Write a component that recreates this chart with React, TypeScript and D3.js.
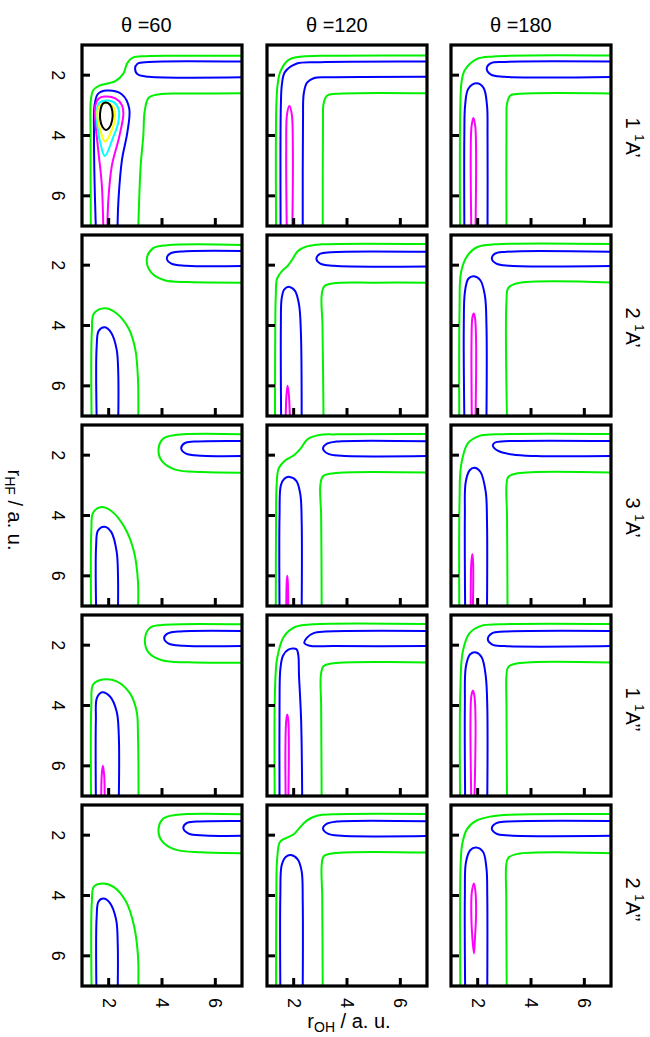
import React from "react";
import * as d3 from "d3";

// panel headers / row labels / ticks
const thetas = [60, 120, 180];
const stateNums = ["1", "2", "3", "1", "2"];
const stateSyms = ["A’", "A’", "A’", "A’’", "A’’"];
const xTicks = [2, 4, 6];
const yTicks = [2, 4, 6];

const levelColors: Record<string, string> = {
  k: "#000000",
  y: "#ffff00",
  c: "#00ffff",
  m: "#ff00ff",
  b: "#0000ff",
  g: "#00f000",
};

// contour lines: [level, closed, [r_OH, r_HF] points]
type Contour = [string, boolean, number[][]];

const p11: Contour[] = [
  ["g", false, [[1.33, 7.1], [1.32, 4], [1.33, 2.85], [1.42, 2.5], [1.65, 2.35], [2.25, 2.2], [2.55, 1.95], [2.7, 1.6], [2.9, 1.42], [3.4, 1.37], [5, 1.36], [7.1, 1.36]]],
  ["g", false, [[3.11, 7.1], [3.2, 5], [3.3, 4], [3.35, 3.2], [3.5, 2.75], [3.9, 2.63], [5, 2.61], [7.1, 2.6]]],
  ["b", false, [[7.1, 1.55], [3.5, 1.56], [3.08, 1.62], [2.99, 1.8], [3.1, 1.98], [3.5, 2.05], [7.1, 2.07]]],
  ["b", false, [[1.52, 7.1], [1.47, 5.5], [1.45, 4], [1.47, 3], [1.6, 2.62], [1.93, 2.51], [2.5, 2.64], [2.77, 3.1], [2.7, 3.9], [2.5, 4.8], [2.37, 6.1], [2.33, 7.1]]],
  ["m", false, [[1.8, 7.1], [1.74, 5.6], [1.61, 4.5], [1.49, 3.4], [1.5, 3.0], [1.62, 2.78], [1.85, 2.71], [2.25, 2.77], [2.5, 3.0], [2.55, 3.3], [2.38, 4.1], [2.12, 5.0], [1.99, 6.1], [1.95, 7.1]]],
  ["c", true, [[1.55, 3.2], [1.65, 2.92], [1.9, 2.84], [2.2, 2.9], [2.38, 3.15], [2.35, 3.6], [2.15, 4.1], [1.86, 4.68], [1.7, 4.3], [1.58, 3.7]]],
  ["y", true, [[1.6, 3.1], [1.75, 2.95], [1.98, 2.93], [2.17, 3.05], [2.24, 3.35], [2.15, 3.75], [1.86, 4.2], [1.68, 3.8], [1.58, 3.4]]],
  ["k", true, [[1.9, 2.91], [2.05, 2.98], [2.14, 3.2], [2.13, 3.5], [2.02, 3.75], [1.9, 3.82], [1.77, 3.72], [1.68, 3.45], [1.7, 3.12], [1.78, 2.95]]],
];
const p12: Contour[] = [
  ["g", false, [[1.34, 7.1], [1.35, 3], [1.4, 2.3], [1.5, 1.88], [1.8, 1.5], [2.24, 1.39], [3, 1.36], [7.1, 1.35]]],
  ["b", false, [[1.51, 7.1], [1.52, 3], [1.56, 2.3], [1.67, 1.9], [2.1, 1.62], [3, 1.57], [7.1, 1.55]]],
  ["b", false, [[2.34, 7.1], [2.35, 3.5], [2.38, 2.6], [2.5, 2.25], [2.75, 2.1], [3.3, 2.07], [7.1, 2.05]]],
  ["g", false, [[3.09, 7.1], [3.1, 3.5], [3.12, 2.95], [3.25, 2.68], [3.6, 2.62], [7.1, 2.6]]],
  ["m", false, [[1.74, 7.1], [1.72, 4.5], [1.75, 3.3], [1.84, 3.02], [1.93, 3.3], [1.97, 4.5], [1.95, 7.1]]],
];
const p13: Contour[] = [
  ["g", false, [[1.34, 7.1], [1.35, 3], [1.4, 2.2], [1.52, 1.83], [1.96, 1.47], [2.6, 1.38], [7.1, 1.35]]],
  ["b", false, [[7.1, 1.55], [3, 1.56], [2.5, 1.6], [2.34, 1.78], [2.5, 1.98], [3, 2.05], [7.1, 2.06]]],
  ["b", false, [[1.5, 7.1], [1.5, 4], [1.53, 3], [1.65, 2.45], [1.96, 2.27], [2.22, 2.42], [2.35, 3], [2.37, 4], [2.37, 7.1]]],
  ["g", false, [[3.08, 7.1], [3.08, 3.5], [3.1, 2.95], [3.22, 2.68], [3.6, 2.62], [7.1, 2.61]]],
  ["m", false, [[1.76, 7.1], [1.74, 4.5], [1.77, 3.7], [1.84, 3.42], [1.91, 3.7], [1.94, 4.5], [1.92, 7.1]]],
];

const p21: Contour[] = [
  ["g", false, [[7.1, 1.33], [4.2, 1.34], [3.65, 1.45], [3.43, 1.8], [3.6, 2.25], [4.1, 2.5], [5, 2.56], [7.1, 2.58]]],
  ["b", false, [[7.1, 1.53], [4.7, 1.55], [4.3, 1.62], [4.18, 1.78], [4.35, 1.95], [4.9, 2.02], [7.1, 2.03]]],
  ["g", false, [[1.36, 7.1], [1.37, 4.2], [1.45, 3.6], [1.86, 3.43], [2.3, 3.6], [2.75, 4.1], [3.0, 4.8], [3.1, 5.8], [3.11, 7.1]]],
  ["b", false, [[1.55, 7.1], [1.55, 4.7], [1.63, 4.17], [1.86, 4.06], [2.1, 4.25], [2.3, 4.8], [2.36, 5.6], [2.36, 7.1]]],
];
const p22: Contour[] = [
  ["g", false, [[1.3, 7.1], [1.31, 4], [1.33, 3], [1.38, 2.44], [1.59, 2.17], [1.78, 2.02], [1.97, 1.78], [2.16, 1.53], [2.53, 1.37], [3.04, 1.31], [7.1, 1.3]]],
  ["b", false, [[7.1, 1.56], [3.4, 1.57], [3.0, 1.62], [2.85, 1.78], [3.0, 1.95], [3.5, 2.02], [7.1, 2.04]]],
  ["b", false, [[1.53, 7.1], [1.52, 4], [1.55, 3.1], [1.65, 2.8], [1.84, 2.72], [2.05, 2.85], [2.2, 3.3], [2.27, 4.2], [2.3, 7.1]]],
  ["g", false, [[3.12, 7.1], [3.08, 4], [3.05, 3.0], [3.15, 2.7], [3.5, 2.6], [5, 2.58], [7.1, 2.58]]],
  ["m", false, [[1.7, 7.1], [1.73, 6.3], [1.77, 6.0], [1.82, 6.3], [1.86, 7.1]]],
];
const p23: Contour[] = [
  ["g", false, [[1.31, 7.1], [1.32, 3.5], [1.38, 2.22], [1.63, 1.67], [2.01, 1.39], [2.64, 1.31], [7.1, 1.3]]],
  ["b", false, [[7.1, 1.56], [3.0, 1.56], [2.65, 1.62], [2.53, 1.78], [2.7, 1.95], [3.2, 2.02], [7.1, 2.03]]],
  ["b", false, [[1.5, 7.1], [1.48, 4], [1.52, 2.9], [1.65, 2.45], [1.86, 2.37], [2.1, 2.5], [2.27, 3.0], [2.33, 4], [2.33, 7.1]]],
  ["g", false, [[3.1, 7.1], [3.08, 3.2], [3.15, 2.75], [3.5, 2.6], [7.1, 2.58]]],
  ["m", false, [[1.78, 7.1], [1.77, 4.5], [1.8, 3.75], [1.85, 3.6], [1.9, 3.75], [1.94, 4.5], [1.92, 7.1]]],
];

const p31: Contour[] = [
  ["g", false, [[7.1, 1.31], [4.5, 1.33], [4.05, 1.45], [3.87, 1.8], [4.0, 2.2], [4.5, 2.48], [5.5, 2.56], [7.1, 2.58]]],
  ["b", false, [[7.1, 1.53], [5.2, 1.55], [4.85, 1.6], [4.72, 1.78], [4.9, 1.95], [5.5, 2.02], [7.1, 2.03]]],
  ["g", false, [[1.34, 7.1], [1.35, 4.5], [1.42, 3.9], [1.72, 3.72], [2.1, 3.85], [2.6, 4.4], [2.95, 5.2], [3.1, 6.2], [3.1, 7.1]]],
  ["b", false, [[1.53, 7.1], [1.53, 5], [1.6, 4.5], [1.84, 4.37], [2.1, 4.55], [2.3, 5.2], [2.35, 6], [2.35, 7.1]]],
];
const p32: Contour[] = [
  ["g", false, [[1.33, 7.1], [1.34, 4], [1.36, 3], [1.44, 2.44], [1.69, 2.17], [2.01, 2.0], [2.26, 1.78], [2.52, 1.47], [2.96, 1.33], [3.6, 1.31], [7.1, 1.3]]],
  ["b", false, [[7.1, 1.54], [3.6, 1.55], [3.25, 1.62], [3.1, 1.78], [3.3, 1.96], [3.8, 2.02], [7.1, 2.03]]],
  ["b", false, [[1.47, 7.1], [1.47, 4], [1.52, 3.0], [1.65, 2.78], [1.85, 2.72], [2.1, 2.85], [2.25, 3.3], [2.3, 4.2], [2.3, 7.1]]],
  ["g", false, [[3.05, 7.1], [3.03, 4], [3.0, 3.0], [3.1, 2.7], [3.5, 2.6], [7.1, 2.58]]],
  ["m", false, [[1.72, 7.1], [1.74, 6.2], [1.76, 6.0], [1.78, 6.2], [1.8, 7.1]]],
];
const p33: Contour[] = [
  ["g", false, [[1.31, 7.1], [1.32, 3.5], [1.38, 2.33], [1.63, 1.61], [2.07, 1.36], [2.7, 1.31], [7.1, 1.3]]],
  ["b", false, [[7.1, 1.53], [3.0, 1.54], [2.65, 1.58], [2.57, 1.68], [2.75, 1.85], [3.3, 1.98], [4.2, 2.03], [7.1, 2.03]]],
  ["b", false, [[1.53, 7.1], [1.52, 4], [1.55, 2.9], [1.7, 2.5], [1.88, 2.42], [2.1, 2.55], [2.3, 3.2], [2.35, 4.2], [2.35, 7.1]]],
  ["g", false, [[3.12, 7.1], [3.1, 4], [3.08, 3.0], [3.15, 2.72], [3.5, 2.6], [7.1, 2.58]]],
  ["m", false, [[1.74, 7.1], [1.76, 5.6], [1.8, 5.28], [1.83, 5.6], [1.82, 7.1]]],
];

const p41: Contour[] = [
  ["g", false, [[7.1, 1.31], [4.0, 1.33], [3.55, 1.42], [3.36, 1.8], [3.5, 2.25], [4.0, 2.5], [5, 2.57], [7.1, 2.58]]],
  ["b", false, [[7.1, 1.53], [4.6, 1.55], [4.2, 1.62], [4.08, 1.77], [4.25, 1.95], [4.8, 2.02], [7.1, 2.03]]],
  ["g", false, [[1.34, 7.1], [1.35, 4], [1.42, 3.3], [1.78, 3.14], [2.3, 3.2], [2.8, 3.6], [3.05, 4.2], [3.1, 5], [3.12, 7.1]]],
  ["b", false, [[1.52, 7.1], [1.52, 4.5], [1.56, 3.75], [1.75, 3.56], [2.05, 3.7], [2.3, 4.2], [2.38, 5], [2.38, 7.1]]],
  ["m", false, [[1.72, 7.1], [1.74, 6.3], [1.78, 6.0], [1.83, 6.3], [1.85, 7.1]]],
];
const p42: Contour[] = [
  ["g", false, [[1.29, 7.1], [1.3, 3.5], [1.38, 2.44], [1.63, 1.72], [2.07, 1.39], [2.7, 1.31], [7.1, 1.3]]],
  ["b", false, [[7.1, 1.53], [3.2, 1.55], [2.75, 1.6], [2.5, 1.75], [2.4, 1.93], [2.6, 2.02], [3.5, 2.03], [7.1, 2.03]]],
  ["b", false, [[1.47, 7.1], [1.47, 4], [1.5, 2.8], [1.6, 2.35], [1.8, 2.15], [2.1, 2.13], [2.17, 2.3], [2.2, 3], [2.28, 4.5], [2.32, 7.1]]],
  ["g", false, [[3.05, 7.1], [3.03, 4], [3.02, 3.0], [3.12, 2.7], [3.5, 2.6], [7.1, 2.58]]],
  ["m", false, [[1.7, 7.1], [1.69, 5.5], [1.72, 4.5], [1.76, 4.3], [1.8, 4.5], [1.82, 5.5], [1.8, 7.1]]],
];
const p43: Contour[] = [
  ["g", false, [[1.34, 7.1], [1.35, 3.5], [1.44, 2.22], [1.69, 1.61], [2.13, 1.36], [2.82, 1.31], [7.1, 1.3]]],
  ["b", false, [[7.1, 1.53], [3.0, 1.55], [2.55, 1.6], [2.38, 1.8], [2.55, 1.98], [3.0, 2.03], [7.1, 2.03]]],
  ["b", false, [[1.53, 7.1], [1.52, 4], [1.56, 2.7], [1.72, 2.3], [1.94, 2.24], [2.15, 2.4], [2.3, 3.0], [2.36, 4], [2.36, 7.1]]],
  ["g", false, [[3.1, 7.1], [3.08, 4], [3.08, 3.0], [3.15, 2.72], [3.5, 2.6], [7.1, 2.58]]],
  ["m", false, [[1.76, 7.1], [1.73, 4.5], [1.76, 3.7], [1.82, 3.5], [1.88, 3.7], [1.92, 4.5], [1.88, 7.1]]],
];

const p51: Contour[] = [
  ["g", false, [[7.1, 1.31], [4.5, 1.33], [4.05, 1.45], [3.87, 1.8], [4.0, 2.2], [4.5, 2.48], [5.5, 2.57], [7.1, 2.6]]],
  ["b", false, [[7.1, 1.53], [5.3, 1.55], [4.92, 1.6], [4.8, 1.77], [5.0, 1.95], [5.6, 2.01], [7.1, 2.02]]],
  ["g", false, [[1.36, 7.1], [1.37, 4.2], [1.45, 3.7], [1.8, 3.6], [2.2, 3.72], [2.65, 4.2], [2.95, 5], [3.1, 6], [3.11, 7.1]]],
  ["b", false, [[1.54, 7.1], [1.55, 4.7], [1.62, 4.2], [1.8, 4.1], [2.05, 4.25], [2.28, 4.8], [2.34, 5.6], [2.34, 7.1]]],
];
const p52: Contour[] = [
  ["g", false, [[1.34, 7.1], [1.35, 4], [1.38, 2.8], [1.49, 2.22], [1.75, 2.08], [1.99, 1.98], [2.18, 1.8], [2.49, 1.52], [2.9, 1.35], [3.5, 1.31], [7.1, 1.3]]],
  ["b", false, [[7.1, 1.54], [3.6, 1.55], [3.25, 1.62], [3.1, 1.78], [3.3, 1.96], [3.8, 2.02], [7.1, 2.03]]],
  ["b", false, [[1.5, 7.1], [1.5, 4], [1.55, 3.0], [1.7, 2.72], [1.9, 2.66], [2.15, 2.8], [2.3, 3.2], [2.34, 4.2], [2.34, 7.1]]],
  ["g", false, [[3.09, 7.1], [3.07, 4], [3.05, 3.0], [3.13, 2.7], [3.5, 2.6], [7.1, 2.58]]],
];
const p53: Contour[] = [
  ["g", false, [[1.35, 7.1], [1.36, 3], [1.42, 2.3], [1.6, 1.8], [1.95, 1.52], [2.5, 1.38], [3.2, 1.32], [7.1, 1.3]]],
  ["b", false, [[7.1, 1.53], [3.1, 1.55], [2.7, 1.6], [2.53, 1.77], [2.7, 1.95], [3.2, 2.01], [7.1, 2.02]]],
  ["b", false, [[1.53, 7.1], [1.52, 4], [1.56, 2.9], [1.72, 2.5], [1.94, 2.41], [2.2, 2.55], [2.33, 3.1], [2.36, 4], [2.36, 7.1]]],
  ["g", false, [[3.09, 7.1], [3.07, 4], [3.07, 3.0], [3.15, 2.75], [3.5, 2.62], [7.1, 2.6]]],
  ["m", true, [[1.86, 3.6], [1.92, 3.9], [1.94, 4.6], [1.9, 5.4], [1.86, 5.92], [1.8, 5.4], [1.76, 4.6], [1.78, 3.9]]],
];

const panels = [
  [p11, p12, p13],
  [p21, p22, p23],
  [p31, p32, p33],
  [p41, p42, p43],
  [p51, p52, p53],
];

const W = 650, H = 1037;
const colX = [82, 267, 451];
const rowY = [45, 235, 425, 615, 805];
const pw = 160, ph = 181;
const font = "'Liberation Sans', Arial, Helvetica, sans-serif";

export default function App() {
  const x = d3.scaleLinear().domain([1, 7]).range([0, pw]);
  const y = d3.scaleLinear().domain([1, 7]).range([0, ph]);
  const openLine = d3.line<number[]>().x(d => x(d[0])).y(d => y(d[1])).curve(d3.curveCatmullRom.alpha(0.5));
  const closedLine = d3.line<number[]>().x(d => x(d[0])).y(d => y(d[1])).curve(d3.curveCatmullRomClosed.alpha(0.5));

  return (
    <svg width={W} height={H} style={{ position: "absolute", left: 0, top: 0, background: "#fff" }} fontFamily={font}>
      <defs>
        <clipPath id="pclip">
          <rect x={0} y={0} width={pw} height={ph} />
        </clipPath>
      </defs>

      {thetas.map((t, c) => (
        <text key={"t" + c} x={colX[c] + pw / 2 - 41} y={32} fontSize={20}>θ ={t}</text>
      ))}

      {panels.map((row, r) =>
        row.map((cont, c) => (
          <g key={r + "-" + c} transform={`translate(${colX[c]},${rowY[r]})`}>
            <g clipPath="url(#pclip)">
              {cont.map((ct, i) => (
                <path key={i} d={(ct[1] ? closedLine : openLine)(ct[2]) || ""} fill="none"
                  stroke={levelColors[ct[0]]} strokeWidth={2} />
              ))}
            </g>
            {yTicks.map(t => (
              <line key={"yt" + t} x1={0} x2={8} y1={y(t)} y2={y(t)} stroke="#000" strokeWidth={3} />
            ))}
            {xTicks.map(t => (
              <line key={"xt" + t} x1={x(t)} x2={x(t)} y1={ph} y2={ph - 8} stroke="#000" strokeWidth={3} />
            ))}
            <rect x={0} y={0} width={pw} height={ph} fill="none" stroke="#000" strokeWidth={3.2} />
            {c === 0 && yTicks.map(t => (
              <text key={"yl" + t} transform={`translate(${-24},${y(t)}) rotate(90)`} textAnchor="middle"
                dominantBaseline="central" fontSize={18}>{t}</text>
            ))}
            {r === panels.length - 1 && xTicks.map(t => (
              <text key={"xl" + t} transform={`translate(${x(t)},${ph + 17}) rotate(90)`} textAnchor="middle"
                dominantBaseline="central" fontSize={18}>{t}</text>
            ))}
          </g>
        ))
      )}

      {stateNums.map((n, r) => (
        <text key={"s" + r} transform={`translate(633,${rowY[r] + ph / 2 - 18}) rotate(90)`} dominantBaseline="central" fontSize={20}>
          {n + " "}
          <tspan dy={-7} fontSize={13}>1</tspan>
          <tspan dy={7}>{stateSyms[r]}</tspan>
        </text>
      ))}

      <text transform="translate(15,510) rotate(90)" textAnchor="middle" dominantBaseline="central" fontSize={20}>
        r<tspan dy={5} fontSize={14}>HF</tspan><tspan dy={-5}> / a. u.</tspan>
      </text>
      <text x={349} y={1028} textAnchor="middle" fontSize={20}>
        r<tspan dy={4} fontSize={14}>OH</tspan><tspan dy={-4}> / a. u.</tspan>
      </text>
    </svg>
  );
}
